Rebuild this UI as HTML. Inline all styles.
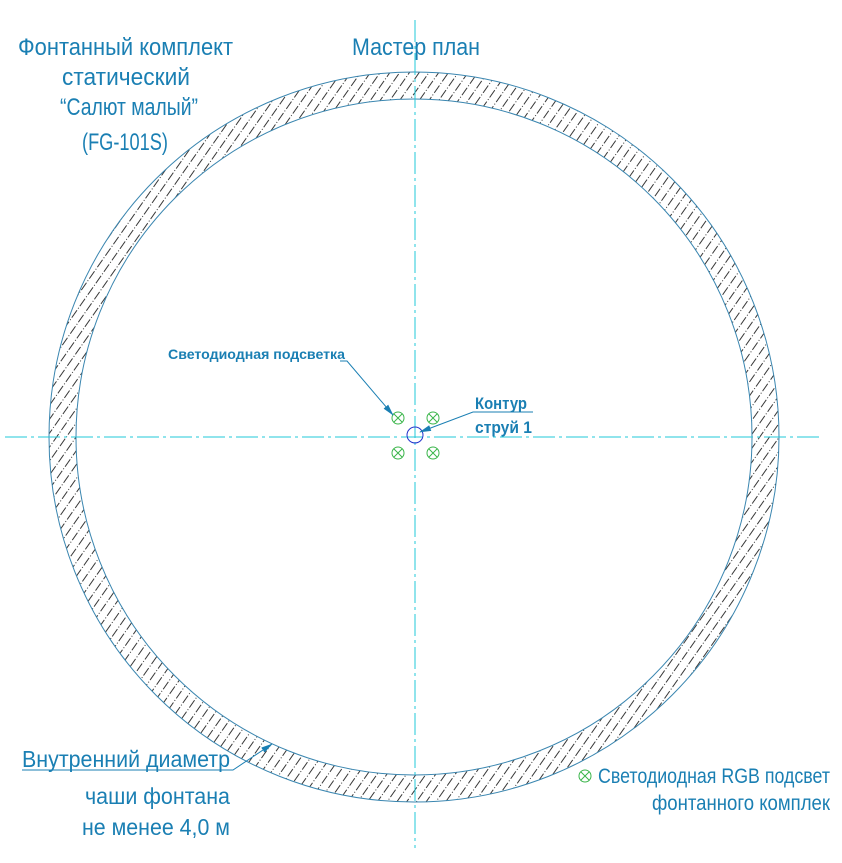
<!DOCTYPE html>
<html><head><meta charset="utf-8"><style>
html,body{margin:0;padding:0;background:#fff;}
svg{display:block;}
text{font-family:"Liberation Sans",sans-serif;fill:#1a7fb3;}
</style></head><body>
<svg width="842" height="863" viewBox="0 0 842 863" xmlns="http://www.w3.org/2000/svg">
<defs>
<pattern id="h" width="8" height="14" patternUnits="userSpaceOnUse" patternTransform="rotate(35)">
<line x1="1" y1="0" x2="1" y2="14" stroke="#222" stroke-width="0.9" stroke-dasharray="9,2,1,2"/>
</pattern>
<marker id="a" markerWidth="12" markerHeight="8" refX="11" refY="4" orient="auto" markerUnits="userSpaceOnUse">
<path d="M0,1 L12,4 L0,7 Z" fill="#1a7fb3"/>
</marker>
</defs>
<path d="M414,72 a365,365 0 1,0 0.01,0 Z M414,99 a338,338 0 1,1 -0.01,0 Z" fill="url(#h)" fill-rule="evenodd"/>
<circle cx="414" cy="437" r="365" fill="none" stroke="#3a86b0" stroke-width="1"/>
<circle cx="414" cy="437" r="338" fill="none" stroke="#3a86b0" stroke-width="1"/>
<line x1="5" y1="437" x2="822" y2="437" stroke="#22c8d8" stroke-width="1" stroke-dasharray="22,4,3,4"/>
<line x1="415" y1="20" x2="415" y2="848" stroke="#22c8d8" stroke-width="1" stroke-dasharray="22,4,3,4"/>
<g stroke="#3ab54a" fill="none" stroke-width="1">
<circle cx="398" cy="418" r="6"/><path d="M394,414 l8,8 M402,414 l-8,8"/>
<circle cx="433" cy="418" r="6"/><path d="M429,414 l8,8 M437,414 l-8,8"/>
<circle cx="398" cy="453" r="6"/><path d="M394,449 l8,8 M402,449 l-8,8"/>
<circle cx="433" cy="453" r="6"/><path d="M429,449 l8,8 M437,449 l-8,8"/>
<circle cx="585" cy="776" r="6"/><path d="M581,772 l8,8 M589,772 l-8,8"/>
</g>
<circle cx="415" cy="435" r="8" fill="none" stroke="#2233cc" stroke-width="1"/>
<g stroke="#1a7fb3" stroke-width="1" fill="none">
<polyline points="340,361 347,361 393,415" marker-end="url(#a)"/>
<polyline points="533,412 473,412 420,432" marker-end="url(#a)"/>
<polyline points="22,770 233,770 272,744" marker-end="url(#a)"/>
</g>
<text x="18" y="55" font-size="24" textLength="215" lengthAdjust="spacingAndGlyphs">Фонтанный комплект</text>
<text x="62" y="85" font-size="24" textLength="128" lengthAdjust="spacingAndGlyphs">статический</text>
<text x="60" y="115" font-size="24" textLength="138" lengthAdjust="spacingAndGlyphs">“Салют малый”</text>
<text x="82" y="150" font-size="24" textLength="86" lengthAdjust="spacingAndGlyphs">(FG-101S)</text>
<text x="352" y="55" font-size="24" textLength="128" lengthAdjust="spacingAndGlyphs">Мастер план</text>
<text x="168" y="359" font-size="14" font-weight="bold" textLength="177" lengthAdjust="spacingAndGlyphs">Светодиодная подсветка</text>
<text x="475" y="409" font-size="17" font-weight="bold" textLength="52" lengthAdjust="spacingAndGlyphs">Контур</text>
<text x="475" y="433" font-size="17" font-weight="bold" textLength="57" lengthAdjust="spacingAndGlyphs">струй 1</text>
<text x="22" y="767" font-size="23" textLength="208" lengthAdjust="spacingAndGlyphs">Внутренний диаметр</text>
<text x="85" y="804" font-size="23" textLength="145" lengthAdjust="spacingAndGlyphs">чаши фонтана</text>
<text x="82" y="835" font-size="23" textLength="148" lengthAdjust="spacingAndGlyphs">не менее 4,0 м</text>
<text x="598" y="783" font-size="21" textLength="232" lengthAdjust="spacingAndGlyphs">Светодиодная RGB подсвет</text>
<text x="652" y="810" font-size="21" textLength="178" lengthAdjust="spacingAndGlyphs">фонтанного комплек</text>
</svg>
</body></html>
